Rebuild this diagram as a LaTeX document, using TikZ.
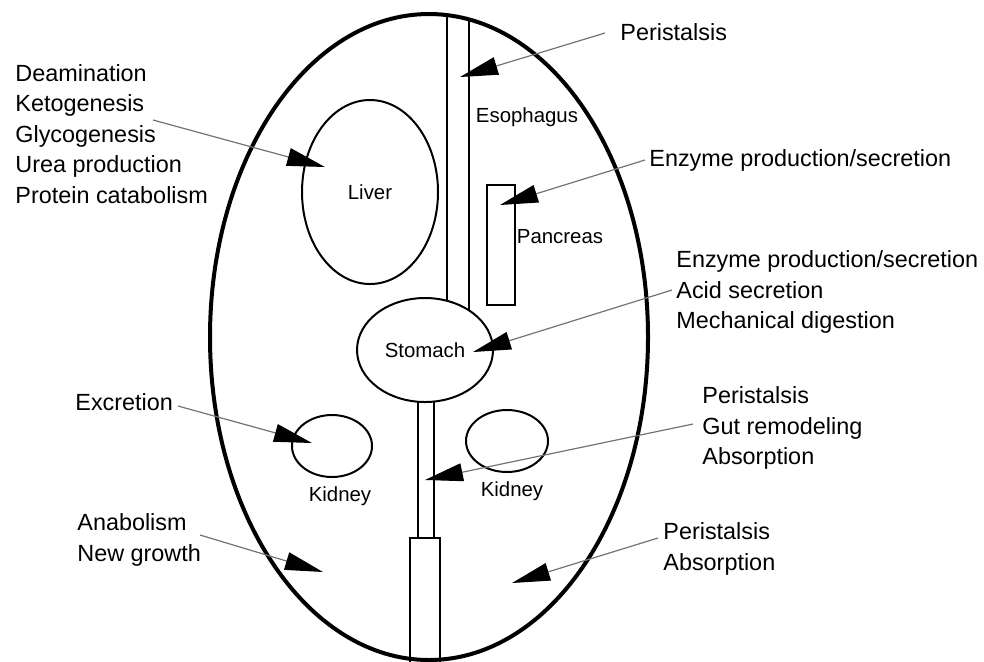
\documentclass[tikz,border=0pt]{standalone}
\usepackage{fontspec}
\setmainfont{Liberation Sans}
\usetikzlibrary{arrows.meta,positioning,shapes.geometric}

\begin{document}
\begin{tikzpicture}[x=0.5pt, y=-0.5pt,
  organ/.style={draw, line width=1pt, inner sep=0pt, font=\fontsize{10.2}{12}\selectfont},
  tag/.style={inner sep=0pt, font=\fontsize{10.2}{12}\selectfont},
  note/.style={anchor=west, align=left, inner sep=0pt, font=\fontsize{11.7}{15.2}\selectfont},
  pointer/.style={-{Triangle[length=19pt,width=9pt,color=black]}, draw=black!55, line width=0.6pt}]
  \useasboundingbox (0,0) rectangle (984,661);
  % esophagus, clipped by the body outline
  \begin{scope}
    \clip (429,337) ellipse [x radius=219, y radius=323];
    \draw[line width=0.9pt] (447,0) -- (447,360) (469,0) -- (469,360);
  \end{scope}
  % small intestine and colon
  \draw[line width=0.9pt] (418,380) -- (418,538) (434,380) -- (434,538);
  \draw[line width=0.9pt] (410,538) rectangle (440,690);
  \draw[line width=2pt] (429,337) ellipse [x radius=219, y radius=323];
  % organs
  \node[organ, ellipse, minimum width=68pt, minimum height=92pt] (liver) at (370,192) {Liver};
  \node[organ, ellipse, fill=white, minimum width=68pt, minimum height=52pt] (stomach) at (425,350) {Stomach};
  \node[organ, minimum width=14pt, minimum height=60pt] (pancreas) at (501,245) {};
  \node[organ, ellipse, minimum width=40pt, minimum height=31pt] (kidL) at (332,446) {};
  \node[organ, ellipse, minimum width=41pt, minimum height=31pt] (kidR) at (507,441) {};
  \node[tag] (lblEso) at (527,117) {Esophagus};
  \node[tag] (lblPan) at (560,237) {Pancreas};
  \node[tag, below=4pt of kidL, xshift=4pt] (lblKidL) {Kidney};
  \node[tag, below=4pt of kidR, xshift=2.5pt] (lblKidR) {Kidney};
  % functions
  \node[note] (fxPeri) at (620,32) {Peristalsis};
  \node[note] (fxLiver) at (15,134) {Deamination\\Ketogenesis\\Glycogenesis\\Urea production\\Protein catabolism};
  \node[note] (fxPan) at (649,160) {Enzyme production/secretion};
  \node[note] (fxStom) at (676,292) {Enzyme production/secretion\\Acid secretion\\Mechanical digestion};
  \node[note] (fxGut) at (702,428) {Peristalsis\\Gut remodeling\\Absorption};
  \node[note] (fxAbs) at (663,549) {Peristalsis\\Absorption};
  \node[note] (fxKid) at (75,402) {Excretion};
  \node[note] (fxGrow) at (77,540) {Anabolism\\New growth};
  % arrow ends
  \coordinate (sPeri) at (605,33);   \coordinate (tPeri) at (460,77);
  \coordinate (sLiver) at (153,120); \coordinate (tLiver) at (325,167);
  \coordinate (sPan) at (645,160);   \coordinate (tPan) at (500,205);
  \coordinate (sStom) at (672,290);  \coordinate (tStom) at (473,352);
  \coordinate (sGut) at (693,424);   \coordinate (tGut) at (425,480);
  \coordinate (sAbs) at (658,538);   \coordinate (tAbs) at (512,583);
  \coordinate (sKid) at (178,406);   \coordinate (tKid) at (312,443);
  \coordinate (sGrow) at (200,535);  \coordinate (tGrow) at (323,572);
  \draw[pointer] (sPeri) -- (tPeri);
  \draw[pointer] (sLiver) -- (tLiver);
  \draw[pointer] (sPan) -- (tPan);
  \draw[pointer] (sStom) -- (tStom);
  \draw[pointer] (sGut) -- (tGut);
  \draw[pointer] (sAbs) -- (tAbs);
  \draw[pointer] (sKid) -- (tKid);
  \draw[pointer] (sGrow) -- (tGrow);
\end{tikzpicture}
\end{document}
